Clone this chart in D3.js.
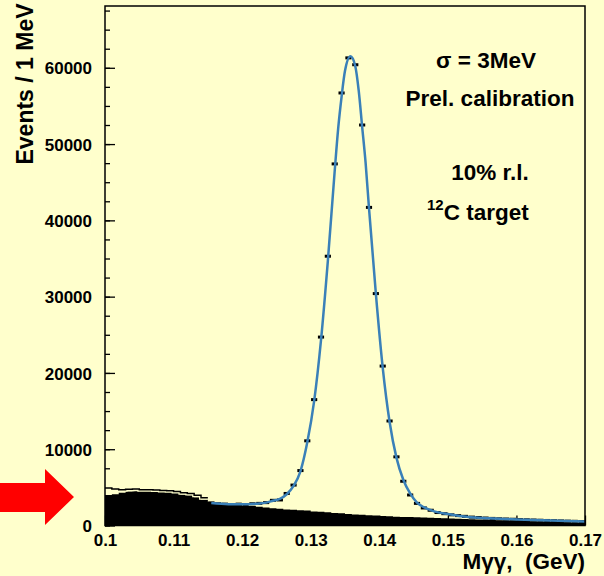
<!DOCTYPE html>
<html>
<head>
<meta charset="utf-8">
<script src="https://cdn.jsdelivr.net/npm/d3@7"></script>
<style>
  html, body { margin: 0; padding: 0; background: #ffffcc; }
  svg { display: block; }
  text { font-family: "Liberation Sans", Arial, sans-serif; font-weight: bold; fill: #000; }
</style>
</head>
<body>
<svg id="chart" width="604" height="576"></svg>
<script>
// black filled background histogram, 1 MeV bins from 0.100 to 0.170 (counts per bin)
const bgCounts = [
  4000, 4100, 4300, 4450, 4500, 4550, 4550, 4500, 4450, 4400,
  4300, 4050, 3950, 3700, 3400, 3100, 2900, 2850, 2800, 2700,
  2600, 2550, 2450, 2350, 2250, 2200, 2100, 2050, 2000, 1950,
  1850, 1800, 1750, 1650, 1600, 1500, 1450, 1400, 1350, 1300,
  1250, 1200, 1150, 1120, 1100, 1080, 1050, 1000, 980, 950,
  920, 880, 850, 820, 780, 750, 720, 700, 680, 650,
  620, 600, 570, 540, 510, 480, 450, 420, 400, 370
];
// outline histogram seen above the filled one at low mass
const outlineCounts = [
  4900, 4800, 4700, 4750, 4800, 4700, 4700, 4650, 4600, 4550,
  4450, 4300, 4200, 3950, 3650
];

// data points (bin centers, GeV) and counts
const pointMass = [
  0.1155, 0.1165, 0.1175, 0.1185, 0.1195, 0.1205, 0.1215, 0.1225, 0.1235, 0.1245,
  0.1255, 0.1265, 0.1275, 0.1285, 0.1295, 0.1305, 0.1315, 0.1325, 0.1335, 0.1345,
  0.1355, 0.1365, 0.1375, 0.1385, 0.1395, 0.1405, 0.1415, 0.1425, 0.1435, 0.1445,
  0.1455, 0.1465, 0.1475, 0.1485, 0.1495, 0.1505, 0.1515, 0.1525, 0.1535, 0.1545,
  0.1555, 0.1565, 0.1575, 0.1585, 0.1595, 0.1605, 0.1615, 0.1625, 0.1635, 0.1645,
  0.1655, 0.1665, 0.1675, 0.1685, 0.1695
];
const pointCounts = [
  2950, 2850, 2800, 2750, 2800, 2750, 2850, 2900, 3000, 3300,
  3350, 4200, 5300, 7200, 11100, 16500, 24700, 35300, 47400, 56700,
  61300, 60400, 52500, 41700, 30400, 20900, 13700, 9000, 5800, 4000,
  2900, 2300, 2000, 1700, 1550, 1400, 1300, 1200, 1100, 1050,
  980, 930, 880, 850, 820, 780, 750, 720, 690, 660,
  630, 600, 570, 550, 520
];

// fit curve
const fitMass = [
  0.1155, 0.118, 0.120, 0.122, 0.1235, 0.1245, 0.1255, 0.1265, 0.1275, 0.1285,
  0.1295, 0.1305, 0.1315, 0.1325, 0.1335, 0.1340, 0.1345, 0.1350, 0.1358, 0.1365,
  0.1370, 0.1375, 0.1380, 0.1385, 0.1395, 0.1405, 0.1415, 0.1425, 0.1435, 0.1445,
  0.1455, 0.1465, 0.148, 0.150, 0.153, 0.156, 0.160, 0.165, 0.170
];
const fitCounts = [
  2950, 2800, 2780, 2850, 3000, 3250, 3500, 4100, 5200, 7100,
  10900, 16300, 24300, 34700, 46500, 52000, 56200, 59600, 61500, 60200,
  57000, 52300, 47600, 41600, 30400, 20700, 13600, 8900, 6000, 4200,
  3000, 2400, 1850, 1500, 1100, 950, 800, 640, 510
];

const yTicks = [0, 10000, 20000, 30000, 40000, 50000, 60000];
const xTicks = [0.1, 0.11, 0.12, 0.13, 0.14, 0.15, 0.16, 0.17];

const svg = d3.select("#chart");
const plotL = 105, plotR = 585, plotT = 6, plotB = 525.5;

const x = d3.scaleLinear().domain([0.1, 0.17]).range([plotL, plotR]);
const y = d3.scaleLinear().domain([0, 68100]).range([plotB, plotT]);

// minor y ticks
svg.append("g")
  .attr("transform", `translate(${plotL},0)`)
  .call(d3.axisLeft(y).tickValues(d3.range(0, 68001, 2500)).tickSize(-5).tickFormat(""))
  .call(g => g.select(".domain").remove())
  .call(g => g.selectAll("line").attr("stroke-width", 1.3));

// major y ticks + labels
svg.append("g")
  .attr("transform", `translate(${plotL},0)`)
  .call(d3.axisLeft(y).tickValues(yTicks).tickSize(-10).tickPadding(13).tickFormat(d3.format("d")))
  .call(g => g.select(".domain").remove())
  .call(g => g.selectAll("line").attr("stroke-width", 1.3))
  .call(g => g.selectAll("text").attr("font-size", 17).attr("dy", "0.36em"));

// x ticks + labels
svg.append("g")
  .attr("transform", `translate(0,${plotB})`)
  .call(d3.axisBottom(x).tickValues(xTicks).tickSize(-10).tickPadding(8).tickFormat(d => String(+d.toFixed(2))))
  .call(g => g.select(".domain").remove())
  .call(g => g.selectAll("line").attr("stroke-width", 1.3))
  .call(g => g.selectAll("text").attr("font-size", 17));

// histograms
const binWidth = 0.001;
const bgSteps = bgCounts.map((c, i) => [0.1 + i * binWidth, c]);
bgSteps.push([0.17, bgCounts[bgCounts.length - 1]]);
svg.append("path")
  .datum(bgSteps)
  .attr("fill", "#000")
  .attr("d", d3.area().curve(d3.curveStepAfter).x(d => x(d[0])).y0(plotB).y1(d => y(d[1])));

const outSteps = outlineCounts.map((c, i) => [0.1 + i * binWidth, c]);
outSteps.push([0.1 + outlineCounts.length * binWidth, outlineCounts[outlineCounts.length - 1]]);
const outLine = d3.line().curve(d3.curveStepAfter).x(d => x(d[0])).y(d => y(d[1]));
svg.append("path").datum(outSteps).attr("fill", "none").attr("stroke", "#ffffcc").attr("stroke-width", 4).attr("d", outLine);
svg.append("path").datum(outSteps).attr("fill", "none").attr("stroke", "#000").attr("stroke-width", 1.5).attr("d", outLine);

// data points with x error bars
svg.append("g")
  .selectAll("line")
  .data(pointMass.map((m, i) => [m, pointCounts[i]]))
  .join("line")
  .attr("x1", d => x(d[0] - 0.00045))
  .attr("x2", d => x(d[0] + 0.00045))
  .attr("y1", d => y(d[1]))
  .attr("y2", d => y(d[1]))
  .attr("stroke", "#000")
  .attr("stroke-width", 3);

// fit curve
svg.append("path")
  .datum(fitMass.map((m, i) => [m, fitCounts[i]]))
  .attr("fill", "none")
  .attr("stroke", "#3a80b8")
  .attr("stroke-width", 2.5)
  .attr("d", d3.line().curve(d3.curveMonotoneX).x(d => x(d[0])).y(d => y(d[1])));

// frame
svg.append("rect")
  .attr("x", plotL).attr("y", plotT)
  .attr("width", plotR - plotL).attr("height", plotB - plotT)
  .attr("fill", "none").attr("stroke", "#000").attr("stroke-width", 1.5);

// axis titles
svg.append("text")
  .attr("transform", "translate(33,84) rotate(-90)")
  .attr("text-anchor", "middle")
  .attr("font-size", 23)
  .text("Events / 1 MeV");

svg.append("text")
  .attr("x", 585).attr("y", 569)
  .attr("text-anchor", "end")
  .attr("font-size", 22.5)
  .style("white-space", "pre")
  .text("Mγγ,  (GeV)");

// annotations
const notes = [
  ["σ = 3MeV", 486, 68],
  ["Prel. calibration", 490, 106],
  ["10% r.l.", 490, 180]
];
svg.append("g").selectAll("text")
  .data(notes)
  .join("text")
  .attr("x", d => d[1]).attr("y", d => d[2])
  .attr("text-anchor", "middle")
  .attr("font-size", 22.5)
  .text(d => d[0]);

const tgt = svg.append("text").attr("x", 427).attr("y", 220).attr("font-size", 22.5);
tgt.append("tspan").attr("font-size", 15).attr("dy", -10).text("12");
tgt.append("tspan").attr("dy", 10).text("C target");

// red arrow
svg.append("path")
  .attr("d", "M0,483 L45,483 L45,469 L74,497 L45,525 L45,512 L0,512 Z")
  .attr("fill", "#ff0000");
</script>
</body>
</html>
